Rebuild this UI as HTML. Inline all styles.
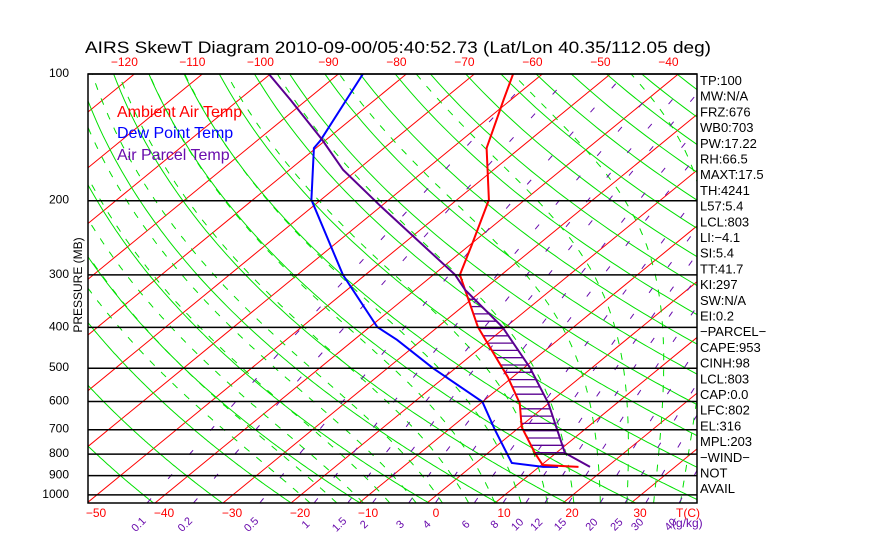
<!DOCTYPE html>
<html><head><meta charset="utf-8"><style>
html,body{margin:0;padding:0;background:#fff;width:870px;height:560px;overflow:hidden}
svg{display:block;font-family:"Liberation Sans",sans-serif}
</style></head><body>
<svg id="chart" width="870" height="560" viewBox="0 0 870 560" xmlns="http://www.w3.org/2000/svg">
<defs><clipPath id="plotclip"><rect x="88" y="74" width="609" height="429"/></clipPath></defs>
<text x="85" y="53" font-size="17" textLength="626" lengthAdjust="spacingAndGlyphs" fill="#000">AIRS SkewT Diagram 2010-09-00/05:40:52.73 (Lat/Lon 40.35/112.05 deg)</text>
<g id="grid" clip-path="url(#plotclip)"></g>
<g id="series" clip-path="url(#plotclip)"></g>
<g id="axes"></g>
<text transform="translate(82,285) rotate(-90)" text-anchor="middle" font-size="12" fill="#000">PRESSURE (MB)</text>
<g font-size="16">
<text x="117" y="117" fill="#ff0000">Ambient Air Temp</text>
<text x="117" y="138" fill="#0000ff">Dew Point Temp</text>
<text x="117" y="160" fill="#6a0dad">Air Parcel Temp</text>
</g>
<g id="indices" font-size="13" fill="#000"></g>
</svg>
<script>
// ---- data ----
const tempP = [100,115,150,199,255,300,399,453,525,605,690,795,849,858];
const tempT = [-64.3,-61.1,-54.9,-45.3,-39.7,-36.1,-24.1,-17.9,-10.7,-4.3,0.3,6.9,10.2,15.8];
const dewP = [100,144,150,199,300,399,428,500,601,701,840,858,858];
const dewT = [-86.4,-80.7,-80.3,-71.4,-53.3,-38.9,-33.7,-23.3,-10.0,-3.1,5.3,10.6,12.8];
const parcelP = [99.5,115,143,169,205,300,326,399,497,605,795,858];
const parcelT = [-100.5,-92.5,-80.7,-72.1,-60.4,-36.8,-32.6,-20.5,-9.3,-0.1,11.3,17.5];
const pressureTicks = [100,200,300,400,500,600,700,800,900,1000];
const bottomTempTicks = [-50,-40,-30,-20,-10,0,10,20,30];
const topTempTicks = [-120,-110,-100,-90,-80,-70,-60,-50,-40];
const mixRatios = [0.1,0.2,0.5,1,1.5,2,3,4,6,8,10,12,15,20,25,30,40];
const indexLabels = ["TP:100","MW:N/A","FRZ:676","WB0:703","PW:17.22","RH:66.5","MAXT:17.5","TH:4241","L57:5.4","LCL:803","LI:\u22124.1","SI:5.4","TT:41.7","KI:297","SW:N/A"," EI:0.2","\u2212PARCEL\u2212","CAPE:953","CINH:98","LCL:803","CAP:0.0","LFC:802","EL:316","MPL:203","\u2212WIND\u2212"," NOT"," AVAIL"];

// ---- axes functions ----
const NS="http://www.w3.org/2000/svg";
const Y0=74, K=182.8, XB=427, SX=6.8, SK=1.22, YB=503, PBOT=100*Math.exp((YB-Y0)/K);
function yP(p){return Y0+K*Math.log(p/100);}
function xT(T,p){return XB+SX*T+SK*(YB-yP(p));}
function el(tag,attrs,parent){const e=document.createElementNS(NS,tag);for(const k in attrs)e.setAttribute(k,attrs[k]);parent.appendChild(e);return e;}
function pathFrom(ps,ts){return ps.map((p,i)=>(i?'L':'M')+xT(ts[i],p).toFixed(1)+' '+yP(p).toFixed(1)).join(' ');}
const grid=document.getElementById('grid'),series=document.getElementById('series'),axes=document.getElementById('axes'),idx=document.getElementById('indices');

// isotherms
for(let T=-200;T<=60;T+=10){
  const l=el('line',{x1:xT(T,PBOT),y1:YB,x2:xT(T,100),y2:Y0,stroke:'#ff0000','stroke-width':1},grid);
  
  
}
// dry adiabats
const pres=[];for(let p=PBOT;p>=95;p-=5)pres.push(p);
for(let th=180;th<=600;th+=10){
  const ts=pres.map(p=>th*Math.pow(p/1000,0.286)-273.15);
  const d=el('path',{d:pathFrom(pres,ts),fill:'none',stroke:'#00e000','stroke-width':1},grid);
  
  
}
// moist adiabats
function es(T){return 6.112*Math.exp(17.67*T/(T+243.5));}
function gam(T,p){const Tk=T+273.15,e=es(T),rs=0.622*e/(p-e),Lv=2.5e6,Rd=287,cp=1004;return (Rd*Tk+Lv*rs)/(p*(cp+Lv*Lv*rs*0.622/(Rd*Tk*Tk)));}
for(let tw=-20;tw<=40;tw+=4){
  let T=tw,p=1000;
  while(p<PBOT){T+=gam(T,p)*2;p+=2;}
  const ps=[],ts=[];
  while(p>=100){ps.push(p);ts.push(T);T-=gam(T,p)*2;p-=2;}
  const d=el('path',{d:pathFrom(ps,ts),fill:'none',stroke:'#00e000','stroke-width':1,'stroke-dasharray':'7 9'},grid);
  
  
}
// mixing ratio lines
function tdFromW(w,p){const e=w*p/(622+w);const a=Math.log(e/6.112);return 243.5*a/(17.67-a);}
mixRatios.forEach(w=>{
  const ps=[],ts=[];for(let p=PBOT;p>=100;p-=10){ps.push(p);ts.push(tdFromW(w,p));}
  const d=el('path',{d:pathFrom(ps,ts),fill:'none',stroke:'#6a0dad','stroke-width':1,'stroke-dasharray':'6 26'},grid);
  
  
  const x=xT(tdFromW(w,PBOT),PBOT)-6;
  const t=el('text',{x:x,y:527,transform:`rotate(-45 ${x} 527)`,'font-size':11,fill:'#6a0dad','text-anchor':'middle'},axes);
  t.textContent=String(w);
  
  
});
const gk=el('text',{x:672,y:527,'font-size':12,fill:'#6a0dad'},axes);gk.textContent='(g/kg)';



// pressure lines and labels
pressureTicks.forEach(p=>{
  const l=el('line',{x1:88,x2:697,y1:yP(p),y2:yP(p),stroke:'#000','stroke-width':1.5},axes);
  
  
  const t=el('text',{x:69,y:yP(p)+3,'font-size':12,'text-anchor':'end',fill:'#000'},axes);
  t.textContent=String(p);
  
  
});
const fr=el('rect',{x:88,y:74,width:609,height:429,fill:'none',stroke:'#000','stroke-width':1.5},axes);


bottomTempTicks.forEach(T=>{
  const t=el('text',{x:xT(T,PBOT)+9,y:517,'font-size':12,'text-anchor':'middle',fill:'#ff0000'},axes);
  t.textContent=String(T).replace('-','\u2212');
  
  
});
const tc=el('text',{x:676,y:517,'font-size':12,fill:'#ff0000'},axes);tc.textContent='T(C)';


topTempTicks.forEach(T=>{
  const t=el('text',{x:xT(T,100)-10,y:66,'font-size':12,'text-anchor':'middle',fill:'#ff0000'},axes);
  t.textContent=String(T).replace('-','\u2212');
  
  
});

// hatching between temp and parcel
function interp(ps,ts,p){for(let i=0;i<ps.length-1;i++){const a=ps[i],b=ps[i+1];if(p>=a&&p<=b&&b>a){const f=Math.log(p/a)/Math.log(b/a);return ts[i]+f*(ts[i+1]-ts[i]);}}return null;}
for(let y=292;y<=454;y+=7.3){
  const p=100*Math.exp((y-Y0)/K);
  const a=interp(tempP,tempT,p),b=interp(parcelP,parcelT,p);
  if(a===null||b===null||b<=a)continue;
  const h=el('line',{x1:xT(a,p),x2:xT(b,p),y1:y,y2:y,stroke:'#5a0090','stroke-width':1.3},series);
  
  
}
// series
[[dewP,dewT,'#0000ff','dew-point-line'],[tempP,tempT,'#ff0000','temperature-line'],[parcelP,parcelT,'#5a0090','parcel-line']].forEach(s=>{
  const d=el('path',{d:pathFrom(s[0],s[1]),fill:'none',stroke:s[2],'stroke-width':2},series);
  
  
});
// indices
indexLabels.forEach((s,i)=>{
  const t=el('text',{x:700,y:85+i*15.7,'xml:space':'preserve'},idx);
  t.textContent=s;
  
  
});
</script>
</body></html>
